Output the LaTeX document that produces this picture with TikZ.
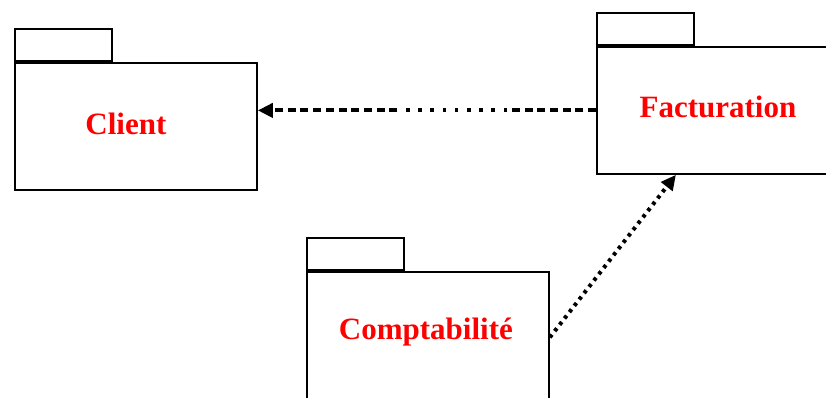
\documentclass[tikz,border=0pt]{standalone}
\usepackage{fontspec}
\setmainfont{Liberation Serif}
\usetikzlibrary{arrows.meta}
\begin{document}
\begin{tikzpicture}[x=1pt,y=-1pt,
  pkgbody/.style={draw=black,line width=1.8pt,minimum width=242pt,minimum height=127pt,inner sep=0pt,anchor=north west},
  pkgtab/.style={draw=black,line width=1.8pt,minimum width=97pt,minimum height=32pt,inner sep=0pt,anchor=south west},
  pkglabel/.style={text=red,font=\bfseries\fontsize{31}{36}\selectfont},
  dep/.style={line width=4pt,-{Triangle[length=15pt,width=14pt]}}]
\useasboundingbox (0,0) rectangle (826,398);
\clip (0,0) rectangle (826,398);
% Client
\node[pkgbody] (client) at (14,62) {};
\node[pkgtab] (clienttab) at (client.north west) {};
\node[pkglabel] (clientlbl) at ([xshift=-10pt,yshift=3pt]client.center) {Client};
% Facturation
\node[pkgbody] (fact) at (596,46) {};
\node[pkgtab] (facttab) at (fact.north west) {};
\node[pkglabel] (factlbl) at ([yshift=3pt]fact.center) {Facturation};
% Comptabilite
\node[pkgbody] (comp) at (306,271) {};
\node[pkgtab] (comptab) at (comp.north west) {};
\node[pkglabel] (complbl) at ([xshift=-2pt,yshift=3pt]comp.center) {Comptabilité};
% dependencies
\draw[dep,dash pattern=on 8pt off 4.7pt on 8pt off 4.7pt on 8pt off 4.7pt on 8pt off 4.7pt on 8pt off 4.7pt on 8pt off 4.7pt on 8pt off 4.7pt
  on 3.5pt off 8.7pt on 3.5pt off 8.7pt on 3.5pt off 8.7pt on 3.5pt off 8.7pt on 3.5pt off 8.7pt on 3.5pt off 8.7pt on 3.5pt off 8.7pt on 3.5pt off 8.7pt on 3.5pt off 8.7pt
  on 8pt off 4.7pt on 8pt off 4.7pt on 8pt off 4.7pt on 8pt off 4.7pt on 8pt off 4.7pt on 8pt off 4.7pt on 8pt off 4.7pt on 8pt off 4.7pt on 8pt off 4.7pt on 8pt off 4.7pt on 8pt off 40pt]
  (fact.west) -- (fact.west -| client.east);
\draw[dep,dash pattern=on 3.5pt off 4.5pt] ([yshift=-2pt]comp.east) -- ([xshift=-42pt]fact.south);
\end{tikzpicture}
\end{document}
